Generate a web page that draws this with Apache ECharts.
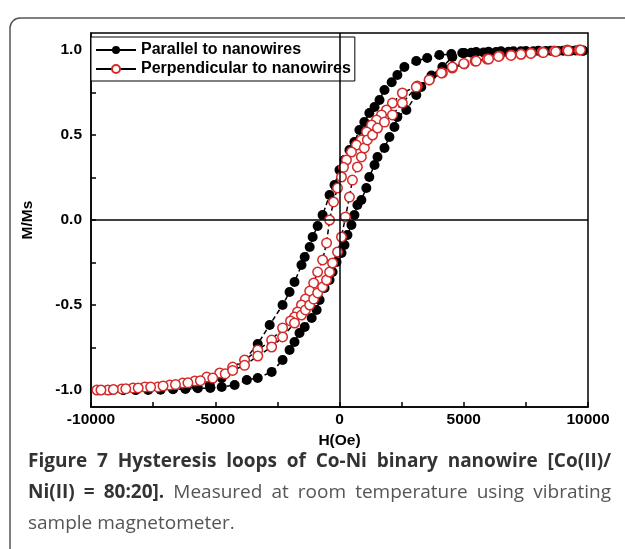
<!DOCTYPE html>
<html>
<head>
  <meta charset="utf-8">
  <title>Hysteresis loops</title>
</head>
<body style="margin: 0; background: #fff">
  <div id="container" style="width: 625px; height: 549px;"></div>
  <script src="https://cdn.jsdelivr.net/npm/echarts@6/dist/echarts.min.js"></script>
  <script>
    // parallel to nanowires: descending branch (+H -> -H), then ascending branch
    var parallelDown = [
      [9800, 0.995], [9300, 0.995], [8800, 0.994], [8300, 0.994], [7800, 0.993], [7300, 0.992],
      [6800, 0.99], [6300, 0.988], [5800, 0.986], [5300, 0.984], [4940, 0.982], [4500, 0.976],
      [4020, 0.971], [3530, 0.953], [3090, 0.935], [2610, 0.9], [2330, 0.853], [2100, 0.81],
      [1810, 0.765], [1610, 0.706], [1410, 0.665], [1200, 0.629], [1000, 0.576], [800, 0.529],
      [600, 0.459], [400, 0.412], [200, 0.353], [0, 0.294], [-200, 0.206], [-400, 0.147],
      [-680, 0.029], [-880, -0.035], [-1080, -0.1], [-1200, -0.159], [-1400, -0.218],
      [-1530, -0.265], [-1810, -0.365], [-2010, -0.424], [-2290, -0.5], [-2810, -0.618],
      [-3290, -0.729], [-3820, -0.824], [-4300, -0.882], [-4740, -0.929], [-5220, -0.971],
      [-5740, -0.982], [-6200, -0.99], [-6700, -0.993], [-7200, -0.995], [-7700, -0.997],
      [-8200, -1.0], [-8700, -1.0], [-9200, -1.0], [-9700, -1.0]
    ];
    var parallelUp = [
      [-9700, -1.0], [-9200, -1.0], [-8700, -1.0], [-8200, -1.0], [-7700, -1.0], [-7200, -0.998],
      [-6700, -0.996], [-6200, -0.994], [-5700, -0.99], [-5200, -0.988], [-4740, -0.982],
      [-4220, -0.971], [-3730, -0.941], [-3290, -0.929], [-2730, -0.894], [-2290, -0.824],
      [-2010, -0.765], [-1810, -0.718], [-1610, -0.665], [-1400, -0.629], [-1120, -0.576],
      [-920, -0.529], [-800, -0.471], [-600, -0.4], [-400, -0.353], [-280, -0.306],
      [-120, -0.247], [80, -0.194], [200, -0.147], [320, -0.088], [480, -0.029], [600, 0.029],
      [720, 0.088], [880, 0.118], [1080, 0.188], [1200, 0.253], [1410, 0.324], [1530, 0.371],
      [1810, 0.424], [2010, 0.488], [2210, 0.547], [2330, 0.606], [2690, 0.647], [3090, 0.735],
      [3290, 0.782], [3700, 0.85], [4140, 0.9], [4540, 0.959], [5020, 0.982], [5500, 0.988],
      [6000, 0.99], [6500, 0.992], [7000, 0.993], [7500, 0.994], [8000, 0.995], [8500, 0.996],
      [9000, 0.996], [9500, 0.997], [9800, 0.997]
    ];
    // perpendicular to nanowires
    var perpDown = [
      [9640, 1.0], [9160, 1.0], [8640, 0.994], [8150, 0.988], [7710, 0.982], [7310, 0.976],
      [6910, 0.971], [6430, 0.965], [5940, 0.947], [5460, 0.935], [5020, 0.918], [4540, 0.894],
      [4140, 0.865], [3610, 0.824], [3130, 0.788], [2530, 0.747], [2130, 0.688], [1890, 0.647],
      [1690, 0.618], [1490, 0.588], [1290, 0.559], [1090, 0.518], [880, 0.471], [680, 0.441],
      [480, 0.4], [280, 0.353], [160, 0.31], [80, 0.253], [-80, 0.188], [-240, 0.106],
      [-400, 0.0], [-520, -0.135], [-680, -0.235], [-880, -0.306], [-1040, -0.371],
      [-1200, -0.418], [-1370, -0.465], [-1530, -0.5], [-1690, -0.541], [-1810, -0.571],
      [-1970, -0.594], [-2290, -0.635], [-2730, -0.706], [-3290, -0.765], [-3820, -0.824],
      [-4300, -0.865], [-4820, -0.9], [-5340, -0.924], [-5820, -0.947], [-6310, -0.959],
      [-6830, -0.971], [-7310, -0.982], [-7830, -0.982], [-8310, -0.988], [-8760, -0.994],
      [-9320, -1.0], [-9760, -1.0]
    ];
    var perpUp = [
      [-9600, -1.0], [-9100, -0.997], [-8600, -0.993], [-8100, -0.988], [-7600, -0.983],
      [-7100, -0.976], [-6600, -0.968], [-6100, -0.958], [-5600, -0.945], [-5100, -0.93],
      [-4600, -0.905], [-4300, -0.885], [-3820, -0.855], [-3290, -0.8], [-2730, -0.747],
      [-2290, -0.688], [-1810, -0.606], [-1530, -0.559], [-1370, -0.529], [-1200, -0.5],
      [-1040, -0.465], [-880, -0.429], [-680, -0.394], [-520, -0.353], [-400, -0.306],
      [-280, -0.253], [-80, -0.188], [80, -0.1], [240, 0.018], [400, 0.135], [520, 0.235],
      [720, 0.312], [880, 0.371], [1000, 0.424], [1120, 0.471], [1330, 0.5], [1530, 0.541],
      [1810, 0.576], [2130, 0.618], [2530, 0.688], [3090, 0.782], [3610, 0.824], [4100, 0.865],
      [4540, 0.9], [5000, 0.92], [5500, 0.935], [6000, 0.947], [6400, 0.962], [6900, 0.968],
      [7300, 0.975], [7700, 0.98], [8200, 0.985], [8700, 0.99], [9200, 0.995], [9700, 1.0]
    ];

    var seriesNames = ['Parallel to nanowires', 'Perpendicular to nanowires'];
    var xLabels = [-10000, -5000, 0, 5000, 10000];
    var xTicks = [-10000, -7500, -5000, -2500, 0, 2500, 5000, 7500, 10000];
    var yLabels = [-1.0, -0.5, 0.0, 0.5, 1.0];
    var yTicks = [-1.0, -0.75, -0.5, -0.25, 0.0, 0.25, 0.5, 0.75, 1.0];

    var caption = [
      { words: ['Figure', '7', 'Hysteresis', 'loops', 'of', 'Co-Ni', 'binary', 'nanowire', '[Co(II)/'], bold: 9, justify: true },
      { words: ['Ni(II)', '=', '80:20].', 'Measured', 'at', 'room', 'temperature', 'using', 'vibrating'], bold: 3, justify: true },
      { words: ['sample', 'magnetometer.'], bold: 0, justify: false }
    ];

    var chart = echarts.init(document.getElementById('container'), null, { renderer: 'canvas' });
    var axisFont = { fontFamily: 'Liberation Sans', fontWeight: 'bold', fontSize: 15.5, color: '#000' };

    // caption laid out word by word so the lines come out justified
    var capFont = '"Open Sans", sans-serif';
    var capSize = 19;
    var capLeft = 28, capRight = 611, capTop = 462, capLead = 31;
    var ctx = document.createElement('canvas').getContext('2d');
    var graphics = [
      {
        type: 'rect', z: 0, silent: true,
        shape: { x: 10, y: 18, width: 640, height: 560, r: 10 },
        style: { fill: 'none', stroke: '#555', lineWidth: 1.5 }
      }
    ];
    caption.forEach(function (line, li) {
      var widths = line.words.map(function (w, i) {
        ctx.font = (i < line.bold ? 'bold ' : '') + capSize + 'px ' + capFont;
        return ctx.measureText(w).width;
      });
      var total = widths.reduce(function (a, b) { return a + b; }, 0);
      ctx.font = capSize + 'px ' + capFont;
      var gap = line.justify ? (capRight - capLeft - total) / (line.words.length - 1) : ctx.measureText(' ').width;
      var x = capLeft;
      line.words.forEach(function (w, i) {
        graphics.push({
          type: 'text', x: x, y: capTop + li * capLead, silent: true,
          style: {
            text: w,
            font: (i < line.bold ? 'bold ' : '') + capSize + 'px ' + capFont,
            fill: i < line.bold ? '#333' : '#555',
            verticalAlign: 'middle'
          }
        });
        x += widths[i] + gap;
      });
    });

    var option = {
      animation: false,
      grid: { left: 91, right: 37, top: 33, bottom: 142, show: true, borderColor: '#000', borderWidth: 1.5 },
      legend: {
        data: seriesNames,
        orient: 'vertical',
        left: 91, top: 37,
        backgroundColor: '#fff',
        borderColor: '#000', borderWidth: 1, borderRadius: 0,
        padding: [5, 4, 4, 4],
        itemGap: 3, itemWidth: 40, itemHeight: 10,
        lineStyle: { type: 'solid', width: 2, color: '#000' },
        textStyle: Object.assign({}, axisFont, { fontSize: 16 })
      },
      xAxis: {
        type: 'value', min: -10000, max: 10000, interval: 5000,
        name: 'H(Oe)', nameLocation: 'middle', nameGap: 21,
        nameTextStyle: axisFont,
        axisLine: { onZero: false, lineStyle: { color: '#000', width: 1.5 } },
        axisTick: { inside: true, length: 5, customValues: xTicks, lineStyle: { color: '#000', width: 1.5 } },
        axisLabel: Object.assign({
          margin: 5, customValues: xLabels,
          formatter: function (v) { return String(v); }
        }, axisFont),
        splitLine: { show: false }
      },
      yAxis: {
        type: 'value', min: -1.1, max: 1.1,
        name: 'M/Ms', nameLocation: 'middle', nameGap: 55,
        nameTextStyle: axisFont,
        axisLine: { onZero: false, lineStyle: { color: '#000', width: 1.5 } },
        axisTick: { inside: true, length: 5, customValues: yTicks, lineStyle: { color: '#000', width: 1.5 } },
        axisLabel: Object.assign({
          margin: 9, customValues: yLabels,
          formatter: function (v) { return v.toFixed(1); }
        }, axisFont),
        splitLine: { show: false }
      },
      graphic: graphics,
      series: [
        {
          // zero lines
          type: 'line', data: [], z: 1, silent: true,
          markLine: {
            silent: true, symbol: 'none', label: { show: false },
            lineStyle: { color: '#000', width: 1.5, type: 'solid' },
            data: [{ xAxis: 0 }, { yAxis: 0 }]
          }
        },
        {
          name: seriesNames[0], type: 'line', z: 3,
          data: parallelDown.concat(parallelUp),
          symbol: 'circle', symbolSize: 10,
          itemStyle: { color: '#000' },
          lineStyle: { color: '#000', width: 1.5, type: [5, 3] }
        },
        {
          name: seriesNames[1], type: 'line', z: 4,
          data: perpDown.concat(perpUp),
          symbol: 'circle', symbolSize: 9.5,
          itemStyle: { color: '#fff', borderColor: '#d42a2a', borderWidth: 1.5 },
          lineStyle: { color: '#000', width: 1.5, type: [5, 3] }
        }
      ]
    };
    chart.setOption(option);
  </script>
</body>
</html>
